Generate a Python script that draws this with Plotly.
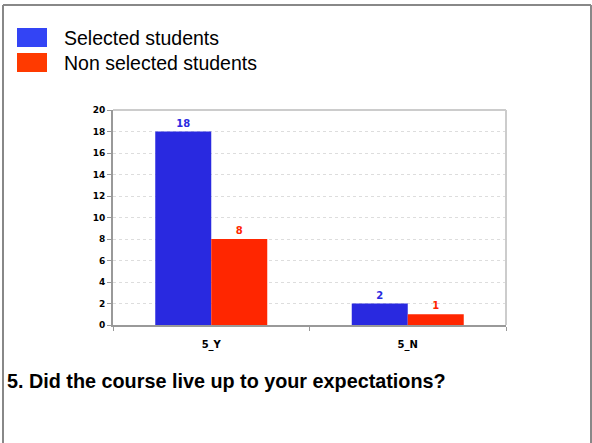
import plotly.graph_objects as go

categories = ["5_Y", "5_N"]
selected = [18, 2]
non_selected = [8, 1]
series_names = ["Selected students", "Non selected students"]
title_text = "5. Did the course live up to your expectations?"
y_ticks = list(range(0, 21, 2))

bar_blue = "#2929E0"
bar_red = "#FF2600"
leg_blue = "#3344F5"
leg_red = "#FF3A00"

fig = go.Figure()
for name, vals, col in [(series_names[0], selected, bar_blue), (series_names[1], non_selected, bar_red)]:
    fig.add_trace(go.Bar(
        x=categories, y=vals, name=name,
        marker=dict(color=col, line=dict(width=0)),
        text=vals, textposition="outside", cliponaxis=False,
        textfont=dict(family="DejaVu Sans", size=10, color=col, weight="bold"),
        showlegend=False,
    ))

fig.update_layout(
    width=592, height=443,
    margin=dict(l=113, r=86, t=110, b=118),
    paper_bgcolor="white", plot_bgcolor="white",
    barmode="group", bargap=0.43, bargroupgap=0,
    font=dict(family="DejaVu Sans"),
    xaxis=dict(
        type="category", tickson="boundaries", ticks="outside", ticklen=4,
        tickcolor="#999999", showline=True, linecolor="#999999", linewidth=2,
        mirror=False, showgrid=False,
        tickfont=dict(family="DejaVu Sans", size=10, color="black", weight="bold"),
        ticklabelstandoff=9,
    ),
    yaxis=dict(
        range=[0, 20], tickvals=y_ticks, ticks="outside", ticklen=4,
        tickcolor="#999999", showline=True, linecolor="#999999", linewidth=2,
        showgrid=True, gridcolor="#dddddd", griddash="dot", gridwidth=1,
        zeroline=False,
        tickfont=dict(family="DejaVu Sans", size=9, color="black", weight="bold"),
    ),
    showlegend=False,
)

# plot frame (top/right light)
fig.add_shape(type="line", xref="paper", yref="paper", x0=0, x1=1, y0=1, y1=1,
              line=dict(color="#cccccc", width=2))
fig.add_shape(type="line", xref="paper", yref="paper", x0=1, x1=1, y0=0, y1=1,
              line=dict(color="#cccccc", width=2))

# outer frame
W, H = 592, 443
pw, ph = W - 113 - 86, H - 110 - 118
def px(x): return (x - 113) / pw
def py(y): return (325 - y) / ph
fig.add_shape(type="line", xref="paper", yref="paper", x0=px(3), x1=px(591), y0=py(5), y1=py(5),
              line=dict(color="#888888", width=2))
fig.add_shape(type="line", xref="paper", yref="paper", x0=px(3), x1=px(3), y0=py(5), y1=py(443),
              line=dict(color="#888888", width=2))
fig.add_shape(type="line", xref="paper", yref="paper", x0=px(591), x1=px(591), y0=py(5), y1=py(443),
              line=dict(color="#888888", width=2))

# legend swatches + labels
for i, (name, col) in enumerate(zip(series_names, [leg_blue, leg_red])):
    top = 28 + i * 25
    fig.add_shape(type="rect", xref="paper", yref="paper",
                  x0=px(17), x1=px(47), y0=py(top), y1=py(top + 19),
                  fillcolor=col, line=dict(width=0))
    fig.add_annotation(xref="paper", yref="paper", x=px(62), y=py(top + 9.5),
                       text=name, showarrow=False, xanchor="left", yanchor="middle",
                       font=dict(family="Liberation Sans", size=19.5, color="black"))

fig.add_annotation(xref="paper", yref="paper", x=px(5), y=py(381),
                   text="<b>" + title_text + "</b>", showarrow=False,
                   xanchor="left", yanchor="middle",
                   font=dict(family="Liberation Sans", size=19.8, color="black"))

fig.write_html("out.html", config={"displayModeBar": False},
               post_script="document.body.style.margin='0';document.body.style.overflow='hidden';")
